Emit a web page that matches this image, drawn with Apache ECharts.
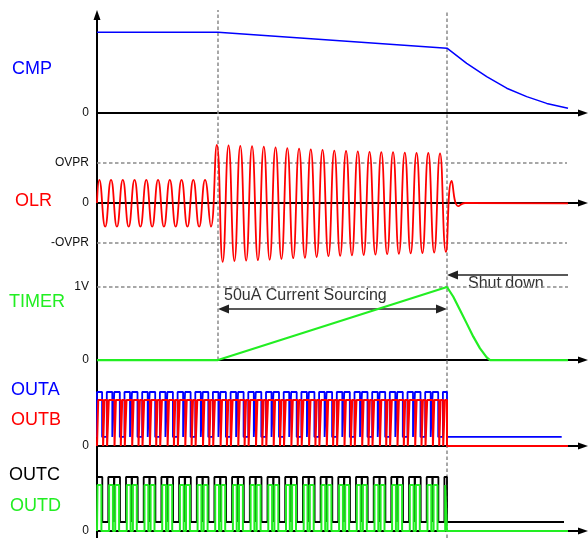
<!DOCTYPE html>
<html>
<head>
<meta charset="utf-8">
<script src="https://cdn.jsdelivr.net/npm/echarts@6/dist/echarts.min.js"></script>
<style>
    html, body { margin: 0; padding: 0; background: #fff; }
    #main { width: 588px; height: 538px; }
</style>
</head>
<body>
<div id="main"></div>
<script>
// time runs from the vertical axis, roughly one unit per pixel of the original plot
var tStart = 121;   // OLR goes over OVPR, timer starts charging
var tStop = 350;    // timer reaches 1V, shut down
var tMax = 486;

var cmpT = [0, 121, 350, 369.7, 389.7, 409.7, 429.7, 449.7, 471];
var cmpV = [2.02, 2.02, 1.62, 1.24, 0.91, 0.62, 0.41, 0.24, 0.12];

// OLR: size of each half wave (peak, trough, peak ...), in OVPR units
var olrFirstPeak = 2.3;
var olrHalfPeriod = 5.875;
var olrAmp = [0.58, 0.59, 0.58, 0.59, 0.58, 0.59, 0.58, 0.59, 0.58, 0.59,
              0.58, 0.59, 0.58, 0.59, 0.58, 0.59, 0.58, 0.59, 0.58, 0.59,
              1.45, 1.47, 1.44, 1.45, 1.43, 1.44, 1.42, 1.43, 1.41, 1.42,
              1.39, 1.40, 1.37, 1.38, 1.36, 1.37, 1.34, 1.35, 1.33, 1.33,
              1.31, 1.32, 1.30, 1.31, 1.29, 1.30, 1.28, 1.29, 1.27, 1.28,
              1.27, 1.27, 1.26, 1.26, 1.25, 1.25, 1.25, 1.24, 1.24, 1.22];
var olrTailT = [354.7, 361.3, 368, 471];
var olrTailV = [0.55, -0.08, 0, -0.01];

var timerT = [0, 121, 350, 356.3, 363, 369.7, 376.3, 383, 389.7, 393, 471];
var timerV = [0, 0, 1, 0.867, 0.685, 0.502, 0.32, 0.16, 0.037, 0, 0];

// switching cycles of the bridge outputs
var cycleStarts = [-6.4, 11.3, 29.0, 46.7, 64.4, 82.1, 99.8, 117.4, 135.1, 152.8, 170.5,
                   188.2, 205.9, 223.6, 241.3, 259.0, 276.7, 294.3, 312.0, 329.7, 347.4];
// [rise, fall] inside one cycle
var outaPulses = [[-1.5, 4], [6, 11.5]];
var outbPulses = [[-3.8, -1.2], [0.5, 6.2], [7.6, 12.5]];
var outcPulses = [[0, 5.6], [6.1, 11.7]];
var outdPulses = [[0.8, 4.6], [6.9, 10.8]];
var outaLevels = [0.196, 1.174];
var outbLevels = [0, 1];
var outcLevels = [0.196, 1.174];
var outdLevels = [0, 1];

var BLUE = '#0000ff', RED = '#ff0000', GREEN = '#22ee22', DASH = '#8a8a8a';
var FONT = '"Liberation Sans", Arial, sans-serif';

function zip(ts, vs) {
    return ts.map(function (t, i) { return [t, vs[i]]; });
}

function olrData() {
    var d = [[0, 0]];
    olrAmp.forEach(function (a, j) {
        d.push([olrFirstPeak + j * olrHalfPeriod, j % 2 ? -a : a]);
    });
    return d.concat(zip(olrTailT, olrTailV));
}

function pulseTrain(pulses, levels, tLast) {
    var lo = levels[0], hi = levels[1];
    var d = [[0, lo]];
    cycleStarts.forEach(function (s) {
        pulses.forEach(function (p) {
            var r = Math.max(s + p[0], 0), f = Math.min(s + p[1], tStop);
            if (f <= r) return;
            d.push([r, lo], [r, hi], [f, hi], [f, lo]);
        });
    });
    d.push([tLast, lo]);
    return d;
}

var grids = [
    {top: 15, height: 115, min: -0.425, max: 2.45, ticks: [0], names: {'0': '0'}, arrow: true},
    {top: 130, height: 140, min: -1.675, max: 1.825, ticks: [-1, 0, 1], names: {'-1': '-OVPR', '0': '0', '1': 'OVPR'}},
    {top: 270, height: 105, min: -0.205, max: 1.233, ticks: [0, 1], names: {'0': '0', '1': '1V'}},
    {top: 375, height: 80, min: -0.196, max: 1.543, ticks: [0], names: {'0': '0'}},
    {top: 455, height: 83, min: -0.152, max: 1.652, ticks: [0], names: {'0': '0'}}
];

var axisLineStyle = {color: '#000', width: 2};

var option = {
    animation: false,
    backgroundColor: '#fff',
    grid: grids.map(function (g) {
        return {left: 97, right: 5, top: g.top, height: g.height};
    }).concat([{left: 97, right: 5, top: 10, bottom: 0}]),
    xAxis: grids.map(function (g, i) {
        return {
            type: 'value', gridIndex: i, min: 0, max: tMax,
            axisLine: {show: true, symbol: ['none', 'triangle'], symbolSize: [7, 10], lineStyle: axisLineStyle},
            axisTick: {show: false}, axisLabel: {show: false}, splitLine: {show: false}
        };
    }).concat([{type: 'value', gridIndex: 5, min: 0, max: tMax, show: false}]),
    yAxis: grids.map(function (g, i) {
        return {
            type: 'value', gridIndex: i, min: g.min, max: g.max,
            axisLine: {show: true, symbol: g.arrow ? ['none', 'triangle'] : 'none', symbolSize: [7, 10], lineStyle: axisLineStyle},
            axisTick: {show: false},
            splitLine: {show: false},
            axisLabel: {
                customValues: g.ticks, margin: 8,
                color: '#111', fontSize: 12, fontFamily: FONT,
                formatter: function (v) { return g.names[String(v)] || ''; }
            }
        };
    }).concat([{type: 'value', gridIndex: 5, min: 0, max: 528, show: false}]),
    graphic: [
        {type: 'text', left: 12, top: 60, style: {text: 'CMP', fill: BLUE, font: '18px ' + FONT}},
        {type: 'text', left: 15, top: 192, style: {text: 'OLR', fill: RED, font: '18px ' + FONT}},
        {type: 'text', left: 9, top: 293, style: {text: 'TIMER', fill: GREEN, font: '18px ' + FONT}},
        {type: 'text', left: 11, top: 381, style: {text: 'OUTA', fill: BLUE, font: '18px ' + FONT}},
        {type: 'text', left: 11, top: 411, style: {text: 'OUTB', fill: RED, font: '18px ' + FONT}},
        {type: 'text', left: 9, top: 466, style: {text: 'OUTC', fill: '#000', font: '18px ' + FONT}},
        {type: 'text', left: 10, top: 497, style: {text: 'OUTD', fill: GREEN, font: '18px ' + FONT}},
        {type: 'text', left: 224, top: 288, style: {text: '50uA Current Sourcing', fill: '#333', font: '16px ' + FONT}},
        {type: 'text', left: 468, top: 276, style: {text: 'Shut down', fill: '#333', font: '16px ' + FONT}}
    ],
    series: [
        {
            type: 'line', xAxisIndex: 0, yAxisIndex: 0, z: 3,
            data: zip(cmpT, cmpV), showSymbol: false,
            lineStyle: {color: BLUE, width: 1.5}
        },
        {
            type: 'line', xAxisIndex: 1, yAxisIndex: 1, z: 3,
            data: olrData(), showSymbol: false, smooth: 0.5,
            lineStyle: {color: RED, width: 1.8},
            markLine: {
                silent: true, z: 1, symbol: ['none', 'none'], label: {show: false},
                lineStyle: {color: DASH, type: [3.5, 2.5], width: 1.5},
                data: [
                    [{coord: [0, 1]}, {coord: [470, 1]}],
                    [{coord: [0, -1]}, {coord: [470, -1]}]
                ]
            }
        },
        {
            type: 'line', xAxisIndex: 2, yAxisIndex: 2, z: 3,
            data: zip(timerT, timerV), showSymbol: false,
            lineStyle: {color: GREEN, width: 2.2},
            markLine: {
                silent: true, z: 1, label: {show: false},
                data: [
                    [{coord: [0, 1], symbol: 'none', lineStyle: {color: DASH, type: [3.5, 2.5], width: 1.5}},
                     {coord: [471, 1], symbol: 'none'}],
                    [{coord: [tStart + 5.5, 0.7], symbol: 'triangle', symbolSize: [9, 11], lineStyle: {color: '#222', type: 'solid', width: 1.5}},
                     {coord: [tStop - 5.5, 0.7], symbol: 'triangle', symbolSize: [9, 11]}],
                    [{coord: [471, 1.164], symbol: 'none', lineStyle: {color: '#222', type: 'solid', width: 1.5}},
                     {coord: [tStop + 5.5, 1.164], symbol: 'triangle', symbolSize: [9, 11]}]
                ]
            }
        },
        {
            type: 'line', xAxisIndex: 3, yAxisIndex: 3, z: 3,
            data: pulseTrain(outaPulses, outaLevels, 464.7), showSymbol: false,
            lineStyle: {color: BLUE, width: 1.8}
        },
        {
            type: 'line', xAxisIndex: 3, yAxisIndex: 3, z: 4,
            data: pulseTrain(outbPulses, outbLevels, 471), showSymbol: false,
            lineStyle: {color: RED, width: 2}
        },
        {
            type: 'line', xAxisIndex: 4, yAxisIndex: 4, z: 3,
            data: pulseTrain(outcPulses, outcLevels, 467), showSymbol: false,
            lineStyle: {color: '#000', width: 1.8}
        },
        {
            type: 'line', xAxisIndex: 4, yAxisIndex: 4, z: 4,
            data: pulseTrain(outdPulses, outdLevels, 471), showSymbol: false,
            lineStyle: {color: GREEN, width: 2}
        },
        {
            // vertical event markers across the panels (y in pixels from the bottom)
            type: 'line', xAxisIndex: 5, yAxisIndex: 5, z: 1,
            data: [[0, 0]], showSymbol: false, lineStyle: {opacity: 0},
            markLine: {
                silent: true, z: 1, symbol: ['none', 'none'], label: {show: false},
                lineStyle: {color: DASH, type: [3.5, 2.5], width: 1.5},
                data: [
                    [{coord: [tStart, 178]}, {coord: [tStart, 528]}],
                    [{coord: [tStop, 0]}, {coord: [tStop, 528]}]
                ]
            }
        }
    ]
};

var chart = echarts.init(document.getElementById('main'));
chart.setOption(option);
</script>
</body>
</html>
